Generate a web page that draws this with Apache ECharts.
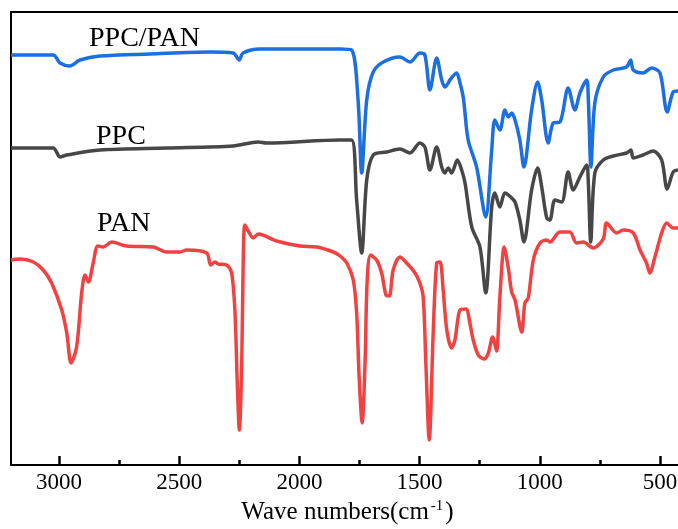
<!DOCTYPE html>
<html>
<head>
<meta charset="utf-8">
<script src="https://cdn.jsdelivr.net/npm/echarts@6/dist/echarts.min.js"></script>
<style>
html,body{margin:0;padding:0;background:#fff;}
#chart{width:678px;height:529px;}
</style>
</head>
<body>
<div id="chart"></div>
<script>
// Wavenumber (cm^-1) and relative transmittance (a.u., offset per trace)
var ppcpanWn = [3200,3025,2996,2955,2913,2830,2622,2372,2276,2250,2235,2164,1998,1831,1783,1756,1741,1720,1693,1651,1582,1540,1499,1478,1457,1429,1408,1395,1381,1374,1346,1332,1318,1298,1263,1225,1200,1187,1166,1145,1131,1117,1103,1083,1066,1034,1009,992,965,944,916,882,854,833,805,798,787,771,736,694,639,622,611,570,535,500,470,445,425];
var ppcpanT  = [410,410,402,399,405,409,411,413,412,405,412,416,416,416,415,365,292,365,393,403,408,403,412,410,375,407,385,378,382,385,392,382,367,325,298,248,315,345,335,355,348,352,345,325,298,355,383,365,322,342,343,377,355,372,385,365,298,362,388,395,398,405,395,392,397,392,353,373,374];

var ppcWn = [3200,3025,2996,2968,2830,2552,2276,2172,2136,1831,1783,1762,1741,1720,1693,1637,1582,1540,1499,1478,1457,1429,1408,1395,1381,1367,1343,1325,1311,1283,1249,1225,1200,1187,1166,1145,1121,1103,1083,1066,1034,1009,992,971,958,937,909,882,861,833,805,798,788,771,736,694,639,621,611,570,528,493,470,445,425];
var ppcT  = [317,317,308,310,315,317,319,323,322,325,325,265,212,285,310,313,316,312,322,318,295,318,298,292,297,292,305,295,282,238,218,172,258,272,258,272,268,263,245,223,275,297,278,247,245,265,263,293,275,288,300,282,223,292,305,309,312,315,307,310,314,305,276,293,295];

var panWn = [3200,3163,3107,3066,3031,2989,2968,2950,2927,2906,2892,2878,2858,2839,2816,2781,2719,2608,2552,2497,2469,2386,2369,2351,2338,2303,2282,2268,2259,2250,2240,2234,2227,2213,2192,2171,2095,1998,1928,1859,1831,1803,1776,1762,1751,1739,1727,1718,1704,1679,1658,1640,1626,1610,1582,1554,1519,1499,1485,1474,1460,1443,1429,1415,1402,1387,1367,1353,1332,1307,1291,1277,1256,1232,1214,1196,1191,1180,1166,1148,1131,1117,1103,1075,1062,1048,1027,999,971,958,916,875,847,819,778,736,722,680,653,611,583,556,542,521,493,472,445,425];
var panT  = [205,206,203,195,182,155,132,102,118,172,190,183,202,219,218,223,219,218,213,213,215,212,200,203,201,200,192,152,85,35,102,202,240,234,227,231,224,219,218,213,209,202,185,152,85,42,102,185,210,205,192,170,169,195,208,202,192,182,168,102,25,135,202,203,175,135,117,125,155,156,142,125,110,106,112,128,125,114,168,218,197,173,165,133,162,167,205,222,225,223,233,233,222,223,217,226,242,232,235,232,215,202,192,208,232,242,237,237];

var seriesNames = ['PPC/PAN','PPC','PAN'];
var seriesColors = ['#1c6fe0','#474747','#f24141'];
var xLabelValues = [500,1000,1500,2000,2500,3000];
var xMinorValues = [750,1250,1750,2250,2750];
var xMin = 400, xMax = 3200;

function zip(a,b){ var out=[]; for (var i=0;i<a.length;i++) out.push([a[i],b[i]]); return out; }

var serif = '"Liberation Serif","Times New Roman",serif';
var chart = echarts.init(document.getElementById('chart'), null, {renderer:'canvas'});

var baseAxis = {
  type:'value', min:xMin, max:xMax, inverse:true, gridIndex:0,
  splitLine:{show:false}
};

chart.setOption({
  animation:false,
  backgroundColor:'#ffffff',
  grid:{left:11, top:12, width:673, height:453, containLabel:false, outerBoundsMode:'none'},
  xAxis:[
    Object.assign({}, baseAxis, {
      position:'bottom',
      axisLine:{show:true, lineStyle:{color:'#000', width:2}},
      axisTick:{show:true, inside:true, length:9, lineStyle:{color:'#000', width:2.5}, customValues:xLabelValues},
      axisLabel:{show:true, margin:6, color:'#000', fontFamily:serif, fontSize:23, customValues:xLabelValues,
                 formatter:function(v){ return String(v); }},
      name:'{a|Wave numbers(cm}{s|-1}{a|)}',
      nameLocation:'middle', nameGap:32,
      nameTextStyle:{rich:{
        a:{fontFamily:serif, fontSize:25, color:'#000', lineHeight:28},
        s:{fontFamily:serif, fontSize:15, color:'#000', verticalAlign:'top', lineHeight:28, padding:[0,2,0,2]}
      }}
    }),
    Object.assign({}, baseAxis, {
      position:'bottom',
      axisLine:{show:false},
      axisTick:{show:true, inside:true, length:5, lineStyle:{color:'#000', width:2.5}, customValues:xMinorValues},
      axisLabel:{show:false}
    }),
    Object.assign({}, baseAxis, {
      position:'top',
      axisLine:{show:true, lineStyle:{color:'#000', width:2}},
      axisTick:{show:false},
      axisLabel:{show:false}
    })
  ],
  yAxis:[{
    type:'value', min:0, max:453, position:'left',
    axisLine:{show:true, lineStyle:{color:'#000', width:2}},
    axisTick:{show:false}, axisLabel:{show:false}, splitLine:{show:false}
  }],
  series:[
    {name:seriesNames[0], type:'line', xAxisIndex:0, data:zip(ppcpanWn, ppcpanT), showSymbol:false, smooth:0.3,
     lineStyle:{color:seriesColors[0], width:3.5}, itemStyle:{color:seriesColors[0]}},
    {name:seriesNames[1], type:'line', xAxisIndex:0, data:zip(ppcWn, ppcT), showSymbol:false, smooth:0.3,
     lineStyle:{color:seriesColors[1], width:3.5}, itemStyle:{color:seriesColors[1]}},
    {name:seriesNames[2], type:'line', xAxisIndex:0, data:zip(panWn, panT), showSymbol:false, smooth:0.3,
     lineStyle:{color:seriesColors[2], width:3.5}, itemStyle:{color:seriesColors[2]}}
  ],
  graphic:[
    {type:'text', left:89, top:25, style:{text:seriesNames[0], font:'28px '+serif, fill:'#000'}},
    {type:'text', left:96, top:123, style:{text:seriesNames[1], font:'28px '+serif, fill:'#000'}},
    {type:'text', left:97, top:210, style:{text:seriesNames[2], font:'28px '+serif, fill:'#000'}}
  ]
});
</script>
</body>
</html>
